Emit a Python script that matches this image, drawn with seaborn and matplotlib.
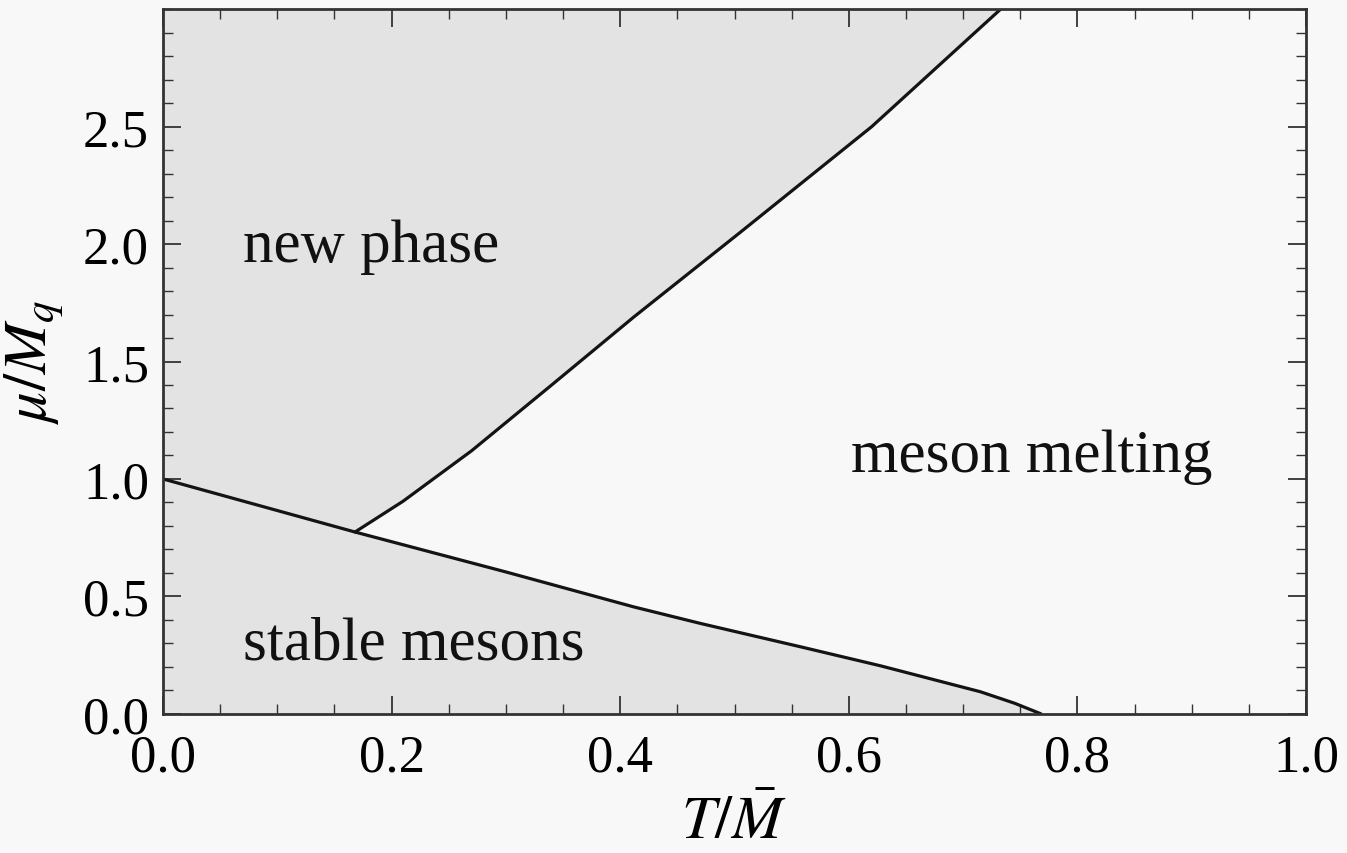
import matplotlib
matplotlib.use("Agg")
import matplotlib.pyplot as plt
import numpy as np
import pandas as pd
import seaborn as sns
from matplotlib.ticker import MultipleLocator

# Boundary between stable mesons and the other phases
lower_T = [0.0, 0.168, 0.300, 0.412, 0.470, 0.558, 0.628, 0.715, 0.745, 0.768]
lower_mu = [1.0, 0.774, 0.604, 0.455, 0.385, 0.285, 0.204, 0.094, 0.045, 0.0]

# Boundary between new phase and meson melting
upper_T = [0.168, 0.210, 0.270, 0.340, 0.412, 0.505, 0.620, 0.735]
upper_mu = [0.774, 0.905, 1.120, 1.400, 1.690, 2.050, 2.500, 3.010]

x_ticks = [0.0, 0.2, 0.4, 0.6, 0.8, 1.0]
y_ticks = [0.0, 0.5, 1.0, 1.5, 2.0, 2.5]

regions = ["new phase", "stable mesons", "meson melting"]
region_pos = [(0.070, 1.93), (0.070, 0.234), (0.602, 1.034)]

bg = "#f8f8f8"
shade = "#e3e3e3"
ink = "#141414"

sns.set_theme(style="ticks")
plt.rcParams["font.family"] = ["Liberation Serif", "DejaVu Serif"]
plt.rcParams["mathtext.fontset"] = "stix"
plt.rcParams["text.color"] = "black"
plt.rcParams["xtick.labelcolor"] = "black"
plt.rcParams["ytick.labelcolor"] = "black"
plt.rcParams["axes.labelcolor"] = "black"

fig = plt.figure(figsize=(13.47, 8.54), dpi=100, facecolor=bg)
ax = fig.add_axes([0.121, 0.163, 0.8486, 0.825])
ax.set_facecolor(bg)

# Shaded regions
ax.fill_between(lower_T, 0, lower_mu, color=shade, lw=0, zorder=0)
np_T = [lower_T[0]] + upper_T
np_mu = [lower_mu[0]] + upper_mu
ax.fill_between(np_T, np_mu, 3.0, color=shade, lw=0, zorder=0)

# Phase boundaries
lower = pd.DataFrame({"T": lower_T, "mu": lower_mu})
upper = pd.DataFrame({"T": upper_T, "mu": upper_mu})
sns.lineplot(data=lower, x="T", y="mu", ax=ax, color=ink, lw=2.3, sort=False)
sns.lineplot(data=upper, x="T", y="mu", ax=ax, color=ink, lw=2.3, sort=False)

for label, (tx, ty) in zip(regions, region_pos):
    ax.text(tx, ty, label, fontsize=44, ha="left", va="baseline", color="#111111")

ax.set_xlim(0, 1.0)
ax.set_ylim(0, 3.0)
ax.set_xticks(x_ticks)
ax.set_yticks(y_ticks)
ax.set_xticklabels([f"{v:.1f}" for v in x_ticks])
ax.set_yticklabels([f"{v:.1f}" for v in y_ticks])
ax.xaxis.set_minor_locator(MultipleLocator(0.05))
ax.yaxis.set_minor_locator(MultipleLocator(0.1))

ax.tick_params(which="both", direction="in", top=True, right=True, color="#333333")
ax.tick_params(which="major", length=13, width=1.3, labelsize=38)
ax.tick_params(which="minor", length=7, width=1.0)
ax.tick_params(axis="x", which="major", pad=14)
ax.tick_params(axis="y", which="major", pad=10)

for sp in ax.spines.values():
    sp.set_linewidth(2.0)
    sp.set_color("#333333")

ax.set_xlabel(r"$T/\bar{M}$", fontsize=44, labelpad=10)
ax.set_ylabel(r"$\mu/M_q$", fontsize=44, labelpad=12)

fig.savefig("out.png", dpi=100, facecolor=bg)
